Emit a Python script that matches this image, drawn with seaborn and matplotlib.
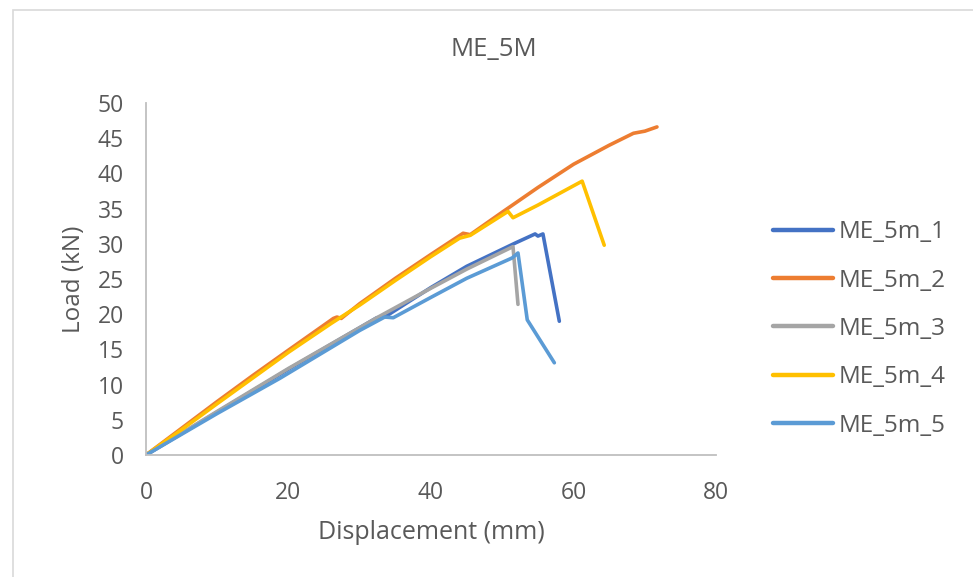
import pandas as pd
import numpy as np
import seaborn as sns
import matplotlib.pyplot as plt

# load-displacement curves
x1 = [0, 10, 20, 32.4, 33.5, 40, 45, 51.8, 54.6, 55.0, 55.7, 58.0]
y1 = [0, 6.1, 12.2, 19.5, 19.6, 23.8, 26.8, 30.1, 31.4, 31.1, 31.4, 19.0]

x2 = [0, 5, 10, 15, 20, 26.3, 26.8, 27.4, 30, 35, 40, 44.5, 45.5, 50, 55, 60, 65, 68.4, 70, 71.7]
y2 = [0, 3.8, 7.6, 11.3, 14.9, 19.4, 19.6, 19.4, 21.5, 25.1, 28.5, 31.5, 31.3, 34.5, 38.0, 41.3, 44.0, 45.7, 46.0, 46.6]

x3 = [0, 10, 20, 32.4, 40, 45, 51.5, 52.2]
y3 = [0, 6.2, 12.3, 19.5, 23.7, 26.4, 29.6, 21.4]

x4 = [0, 5, 10, 20, 26, 30, 35, 40, 44, 45.5, 50.8, 51.5, 55, 61.2, 64.3]
y4 = [0, 3.6, 7.3, 14.6, 18.7, 21.3, 24.8, 28.2, 30.8, 31.2, 34.6, 33.7, 35.5, 38.9, 29.8]

x5 = [0, 10, 18.8, 30, 33.5, 34.7, 40, 45, 51.4, 52.2, 53.5, 57.3]
y5 = [0, 5.9, 10.9, 17.7, 19.6, 19.5, 22.4, 25.1, 28.0, 28.7, 19.2, 13.1]

names = ['ME_5m_1', 'ME_5m_2', 'ME_5m_3', 'ME_5m_4', 'ME_5m_5']
colors = ['#4472C4', '#ED7D31', '#A5A5A5', '#FFC000', '#5B9BD5']

frames = []
for name, xs, ys in zip(names, [x1, x2, x3, x4, x5], [y1, y2, y3, y4, y5]):
    frames.append(pd.DataFrame({'disp': xs, 'load': ys, 'specimen': name}))
df = pd.concat(frames, ignore_index=True)

sns.set_style('white')
plt.rcParams['font.family'] = ['Open Sans', 'DejaVu Sans']
grey = '#595959'

fig = plt.figure(figsize=(9.73, 5.77), dpi=100)
ax = fig.add_axes([0.150, 0.2114, 0.586, 0.6101])
sns.lineplot(data=df, x='disp', y='load', hue='specimen', palette=colors,
             sort=False, estimator=None, linewidth=2.6, ax=ax)

ax.set_xlim(0, 80)
ax.set_ylim(0, 50)
ax.set_xticks(range(0, 81, 20))
ax.set_yticks(range(0, 51, 5))
for s in ['top', 'right']:
    ax.spines[s].set_visible(False)
for s in ['left', 'bottom']:
    ax.spines[s].set_color('#BFBFBF')
    ax.spines[s].set_linewidth(1.3)
ax.tick_params(axis='both', length=0, labelsize=16.5, colors=grey)
ax.tick_params(axis='x', pad=19)
ax.tick_params(axis='y', pad=16)

fig.text(494 / 973, 1 - 50 / 577, 'ME_5M', fontsize=18.5, color=grey, ha='center', va='center')
ax.set_xlabel('Displacement (mm)', fontsize=18, color=grey)
ax.xaxis.set_label_coords(0.5, -0.185)
ax.set_ylabel('Load (kN)', fontsize=17.5, color=grey)
ax.yaxis.set_label_coords(-0.105, 0.5)

leg = ax.legend(loc='center left', bbox_to_anchor=(773 / 973, 1 - 329 / 577),
                bbox_transform=fig.transFigure, frameon=False, borderpad=0, borderaxespad=0,
                fontsize=17.5, handlelength=2.45, labelspacing=1.0, handletextpad=0.25)
for t in leg.get_texts():
    t.set_color(grey)
for h in leg.get_lines():
    h.set_linewidth(3.2)

fig.patches.append(plt.Rectangle((0.013, -0.01), 1.0, 0.993, transform=fig.transFigure,
                                 fill=False, edgecolor='#D9D9D9', linewidth=1.2))
fig.savefig('out.png', dpi=100)
